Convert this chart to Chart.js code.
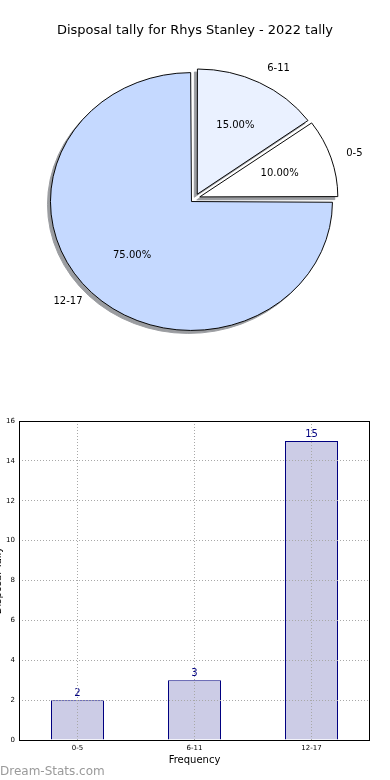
<!DOCTYPE html>
<html>
<head>
<meta charset="utf-8">
<script src="https://cdn.jsdelivr.net/npm/chart.js@4.4.1/dist/chart.umd.min.js"></script>
<style>
  html, body { margin: 0; padding: 0; background: #fff; }
  body { width: 390px; height: 780px; position: relative; overflow: hidden; }
  #pie { position: absolute; left: 0; top: 0; }
  #bars { position: absolute; left: -14px; top: 400px; }
  #mark {
    position: absolute; left: 0; top: 764px;
    font: 12px/14px "DejaVu Sans", sans-serif; color: #9a9a9a;
  }
</style>
</head>
<body>
<canvas id="pie" width="390" height="360"></canvas>
<canvas id="bars" width="404" height="380"></canvas>
<div id="mark">Dream-Stats.com</div>

<script>
// data
const chartTitle = 'Disposal tally for Rhys Stanley - 2022 tally';
const categories = ['0-5', '6-11', '12-17'];
const counts = [2, 3, 15];
const yTicks = [0, 2, 4, 6, 8, 10, 12, 14, 16];
const xTitle = 'Frequency';
const yTitle = 'Disposal Tally';

// pie slice colours, same order as categories
const sliceColors = ['#ffffff', '#eaf1ff', '#c5d9ff'];
// matplotlib goes counter-clockwise from 3 o'clock, Chart.js clockwise from 12
const pieOrder = [1, 0, 2];

Chart.defaults.font.family = '"DejaVu Sans", sans-serif';
Chart.defaults.color = '#000';

const squash = 128 / 140;   // the reference pie is a bit flattened
const total = counts.reduce((a, b) => a + b, 0);

const pieLook = {
    id: 'pieLook',
    beforeDatasetsDraw(chart) {
        const ctx = chart.ctx;
        const arcs = chart.getDatasetMeta(0).data;
        const cy = arcs[0].y;
        ctx.save();
        ctx.translate(0, cy);
        ctx.scale(1, squash);
        ctx.translate(0, -cy);

        // shadow pass: silhouettes drawn far off screen, shadow thrown back in
        ctx.save();
        ctx.translate(-10000, 0);
        ctx.shadowColor = '#9a9ca0';
        ctx.shadowOffsetX = 10000 - 3;
        ctx.shadowOffsetY = 3;
        ctx.shadowBlur = 0;
        arcs.forEach(a => a.draw(ctx));
        ctx.restore();
    },
    afterDatasetsDraw(chart) {
        const ctx = chart.ctx;
        ctx.restore();

        const arcs = chart.getDatasetMeta(0).data;
        ctx.save();
        ctx.fillStyle = '#000';
        ctx.font = '10px "DejaVu Sans"';
        ctx.textBaseline = 'middle';
        arcs.forEach((a, i) => {
            const idx = pieOrder[i];
            const mid = (a.startAngle + a.endAngle) / 2;
            const shift = (a.options.offset || 0) / 4;
            const r = a.outerRadius + 4;
            const cx = Math.cos(mid), sy = Math.sin(mid);

            // category label outside
            const lr = shift + 1.1 * r;
            ctx.textAlign = cx >= 0 ? 'left' : 'right';
            ctx.fillText(categories[idx], a.x + cx * lr, a.y + sy * lr * squash);

            // percentage inside
            const pr = shift + 0.6 * r;
            ctx.textAlign = 'center';
            const pct = (counts[idx] / total * 100).toFixed(2) + '%';
            ctx.fillText(pct, a.x + cx * pr, a.y + sy * pr * squash);
        });
        ctx.restore();
    }
};

new Chart(document.getElementById('pie'), {
    type: 'pie',
    data: {
        labels: pieOrder.map(i => categories[i]),
        datasets: [{
            data: pieOrder.map(i => counts[i]),
            backgroundColor: pieOrder.map(i => sliceColors[i]),
            borderColor: '#000',
            borderWidth: 1,
            offset: 20,
            clip: false
        }]
    },
    options: {
        responsive: false,
        animation: false,
        events: [],
        radius: 136,
        layout: { padding: { top: 0, bottom: 12, left: 0, right: 0 } },
        plugins: {
            legend: { display: false },
            tooltip: { enabled: false },
            title: {
                display: true,
                text: chartTitle,
                color: '#000',
                font: { size: 13, weight: 'normal' },
                padding: { top: 23, bottom: 10 }
            }
        }
    },
    plugins: [pieLook]
});

const barExtras = {
    id: 'barExtras',
    afterDatasetsDraw(chart) {
        const ctx = chart.ctx;
        const meta = chart.getDatasetMeta(0);
        ctx.save();
        ctx.fillStyle = '#000080';
        ctx.font = '10px "DejaVu Sans"';
        ctx.textAlign = 'center';
        ctx.textBaseline = 'alphabetic';
        meta.data.forEach((bar, i) => {
            ctx.fillText(String(counts[i]), bar.x, bar.y - 4);
        });
        ctx.restore();
    },
    afterDraw(chart) {
        const { left, top, width, height } = chart.chartArea;
        const ctx = chart.ctx;
        ctx.save();
        ctx.strokeStyle = '#000';
        ctx.lineWidth = 1;
        ctx.strokeRect(left + 0.5, top + 0.5, width - 1, height);
        ctx.restore();
    }
};

new Chart(document.getElementById('bars'), {
    type: 'bar',
    data: {
        labels: categories,
        datasets: [{
            data: counts,
            backgroundColor: '#cccce6',
            borderColor: '#000080',
            borderWidth: 1,
            barPercentage: 53 / 117,
            categoryPercentage: 1
        }]
    },
    options: {
        responsive: false,
        animation: false,
        events: [],
        layout: { padding: { top: 21, right: 20, left: 0, bottom: 0 } },
        plugins: {
            legend: { display: false },
            tooltip: { enabled: false }
        },
        scales: {
            x: {
                afterFit: (scale) => { scale.height = 40; },
                grid: { offset: false, color: '#a8a8a8', lineWidth: 1, drawTicks: false, z: 1 },
                border: { display: false, dash: [1, 2] },
                ticks: { font: { size: 7 }, color: '#000', padding: 4 },
                title: {
                    display: true, text: xTitle, color: '#000',
                    font: { size: 10 }, padding: { top: 2, bottom: 14 }
                }
            },
            y: {
                min: 0,
                max: 16,
                afterFit: (scale) => { scale.width = 33; },
                afterBuildTicks: (scale) => { scale.ticks = yTicks.map(v => ({ value: v })); },
                grid: { color: '#a8a8a8', lineWidth: 1, drawTicks: false, z: 1 },
                border: { display: false, dash: [1, 2] },
                ticks: { font: { size: 7 }, color: '#000', padding: 4 },
                title: {
                    display: true, text: yTitle, color: '#000',
                    font: { size: 10 }, padding: { top: 6, bottom: 0 }
                }
            }
        }
    },
    plugins: [barExtras]
});
</script>
</body>
</html>
